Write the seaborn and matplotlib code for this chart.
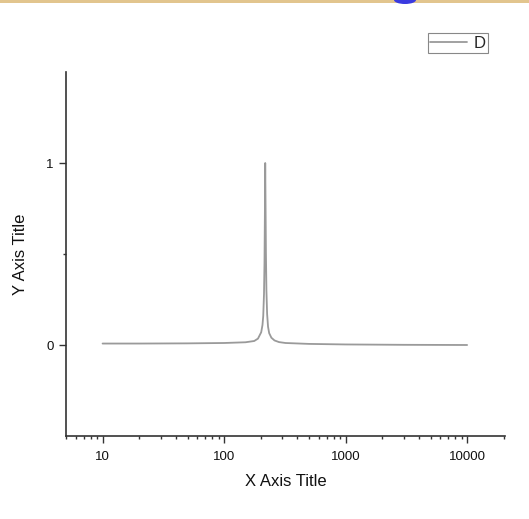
import matplotlib
matplotlib.use("Agg")
import matplotlib.pyplot as plt
import matplotlib.ticker as mticker
from matplotlib.patches import Rectangle, Ellipse
import seaborn as sns
import pandas as pd

# data
freq = [10, 20, 50, 100, 150, 177, 190, 202, 207, 210, 213, 215, 216.5, 218, 219.5, 221,
        223, 226, 230, 235, 245, 260, 283, 320, 500, 1000, 3000, 10000]
amp = [0.008, 0.008, 0.009, 0.011, 0.015, 0.022, 0.035, 0.07, 0.11, 0.16, 0.28, 0.45, 0.7, 1.0,
       0.75, 0.5, 0.3, 0.17, 0.1, 0.065, 0.04, 0.025, 0.016, 0.011, 0.006, 0.003, 0.001, 0.0]
series_label = "D"
x_title = "X Axis Title"
y_title = "Y Axis Title"
x_ticks = [10, 100, 1000, 10000]
x_ticklabels = ["10", "100", "1000", "10000"]
y_ticks = [0, 1]
y_ticklabels = ["0", "1"]

df = pd.DataFrame({"x": freq, "y": amp})

sns.set_style("ticks")
plt.rcParams["font.family"] = ["Liberation Sans", "DejaVu Sans"]

fig = plt.figure(figsize=(5.29, 5.19), dpi=100)
W, H = 529, 519
ax = fig.add_axes([66 / W, 1 - 436 / H, (505 - 66) / W, (436 - 72) / H])

sns.lineplot(data=df, x="x", y="y", ax=ax, color="#9a9a9a", linewidth=1.3,
             label=series_label, sort=False)

ax.set_xscale("log")
ax.set_xlim(5, 20500)
ax.set_ylim(-0.5, 1.5)
ax.set_xticks(x_ticks)
ax.set_xticklabels(x_ticklabels)
ax.xaxis.set_minor_locator(mticker.LogLocator(base=10, subs=range(2, 10), numticks=20))
ax.xaxis.set_minor_formatter(mticker.NullFormatter())
ax.set_yticks(y_ticks)
ax.set_yticklabels(y_ticklabels)
ax.yaxis.set_minor_locator(mticker.FixedLocator([0.5]))

for s in ["top", "right"]:
    ax.spines[s].set_visible(False)
for s in ["left", "bottom"]:
    ax.spines[s].set_color("#333333")
    ax.spines[s].set_linewidth(1.2)

ax.tick_params(axis="both", which="major", direction="out", length=5, width=1,
               color="#333333", labelsize=9.5, labelcolor="#111111")
ax.tick_params(axis="x", which="major", pad=5.5)
ax.tick_params(axis="y", which="major", pad=4)
ax.tick_params(axis="both", which="minor", direction="out", length=2.5, width=1,
               color="#333333")

ax.set_xlabel(x_title, fontsize=12, color="#111111", labelpad=8)
ax.set_ylabel(y_title, fontsize=12, color="#111111", labelpad=13)

leg = ax.legend(loc="upper right", bbox_to_anchor=(488 / W, 1 - 33 / H),
                bbox_transform=fig.transFigure, frameon=True, fancybox=False,
                edgecolor="#888888", framealpha=1, fontsize=12, handlelength=2.2,
                borderpad=0.15, handletextpad=0.4, borderaxespad=0)
leg.get_frame().set_linewidth(0.8)

# decorative strip at the very top of the screenshot
fig.add_artist(Rectangle((0, 1 - 2.5 / H), 1, 2.5 / H, transform=fig.transFigure,
                         facecolor="#e2c58e", edgecolor="none"))
fig.add_artist(Ellipse((405 / W, 1), 22 / W, 8 / H, transform=fig.transFigure,
                       facecolor="#3a3ae0", edgecolor="none"))

fig.savefig("out.png", dpi=100, facecolor="white")
